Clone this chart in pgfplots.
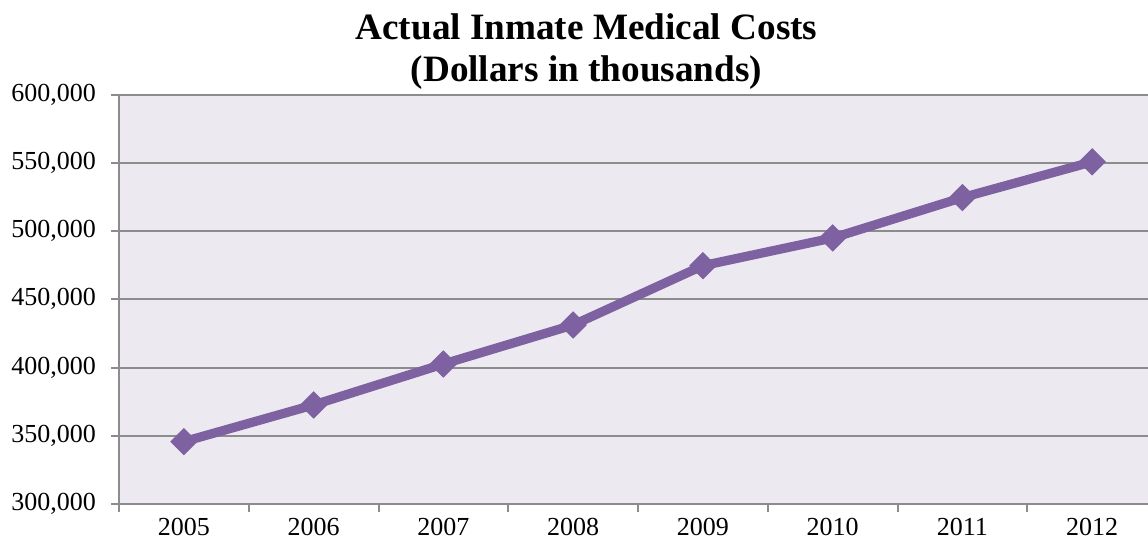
\documentclass[border=0pt]{standalone}
\usepackage{fontspec}
\setmainfont{Liberation Serif}
\usepackage{pgfplots}
\pgfplotsset{compat=1.18}
\definecolor{bgc}{RGB}{236,234,240}
\definecolor{gridc}{RGB}{140,140,140}
\definecolor{linec}{RGB}{126,97,161}
\begin{document}
\begin{tikzpicture}
\begin{axis}[
  name=ax,
  scale only axis,
  width=514.5pt, height=204.65pt,
  xmin=-0.5, xmax=7.43,
  ymin=300000, ymax=600000,
  axis x line*=bottom, axis y line*=left,
  axis line style={gridc, line width=1pt, -},
  axis background/.style={fill=bgc},
  ytick={300000,350000,...,600000},
  ymajorgrids,
  major grid style={gridc, line width=1pt},
  scaled y ticks=false,
  /pgf/number format/fixed,
  /pgf/number format/1000 sep={,},
  /pgf/number format/assume math mode=true,
  xtick={-0.5,0.5,...,6.5},
  xticklabels={},
  extra x ticks={0,1,2,3,4,5,6,7},
  extra x tick labels={2005,2006,2007,2008,2009,2010,2011,2012},
  extra x tick style={major tick length=0pt, grid=none},
  tick align=outside,
  major tick length=4pt,
  tick style={gridc, line width=1pt},
  ticklabel style={font=\fontsize{13}{15}\selectfont, text=black},
  yticklabel style={xshift=-4pt},
  xticklabel style={yshift=-6pt, inner sep=1pt},
  clip=false,
]
\addplot[linec, line width=4.6pt, mark=square*, mark size=4.6pt,
  mark options={rotate=45, fill=linec, draw=linec, line width=0.5pt}]
  coordinates {
  (0,345700) (1,372600) (2,402600) (3,431200)
  (4,474700) (5,495000) (6,524600) (7,550800)
  };
\end{axis}
\node[anchor=base, font=\bfseries\fontsize{18.6}{21}\selectfont] at ([xshift=233.75pt, yshift=27.35pt]ax.north west) {Actual Inmate Medical Costs};
\node[anchor=base, font=\bfseries\fontsize{18.6}{21}\selectfont] at ([xshift=233.75pt, yshift=6.5pt]ax.north west) {(Dollars in thousands)};
\pgfresetboundingbox
\path[use as bounding box] ([xshift=-59.5pt, yshift=-20.5pt]ax.south west) rectangle ([yshift=47.35pt]ax.north east);
\end{tikzpicture}
\end{document}
